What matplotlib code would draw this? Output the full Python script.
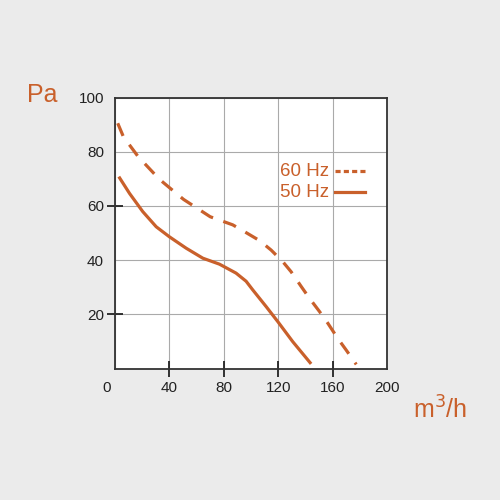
import matplotlib.pyplot as plt
import matplotlib.transforms as mtransforms

plt.rcParams['font.family'] = ['Liberation Sans', 'DejaVu Sans']

# 60 Hz curve (dashed)
flow_60 = [2, 6.2, 17, 32.7, 50.4, 70, 86.6, 95.2, 106.3, 114.8, 123.4, 129.5,
           137, 143, 150.4, 156.5, 163.8, 170, 177.4]
pres_60 = [90.5, 85.5, 78.2, 69.8, 62.4, 56, 53, 50.5, 47.2, 43.7, 39.4, 35.7,
           30.2, 25.9, 21, 16.7, 11.1, 6.8, 1.5]

# 50 Hz curve (solid)
flow_50 = [2.8, 10.7, 20.4, 30.3, 40, 52.3, 64.6, 76.8, 89, 96.4, 101.3, 111.2,
           119.7, 130.7, 144.2]
pres_50 = [70.8, 64.6, 57.9, 52.3, 48.6, 44.4, 40.7, 38.5, 35.2, 32.2, 29, 22.8,
           17.3, 9.9, 1.7]

x_ticks = [0, 40, 80, 120, 160, 200]
y_ticks = [20, 40, 60, 80, 100]

ORANGE = '#c9602b'
BG = '#ebebeb'

fig = plt.figure(figsize=(5, 5), dpi=100, facecolor=BG)
ax = fig.add_axes([115 / 500, 1 - 368.5 / 500, 272 / 500, 271 / 500])
ax.set_facecolor('white')

ax.plot(flow_60, pres_60, color=ORANGE, lw=2.3, ls=(0, (4.3, 3.4)))
ax.plot(flow_50, pres_50, color=ORANGE, lw=2.3, solid_capstyle='butt')

ax.set_xlim(0, 200)
ax.set_ylim(0, 100)

ax.set_xticks(x_ticks)
ax.set_yticks(y_ticks)
ax.tick_params(axis='x', length=0, labelsize=11, colors='#222222', pad=9)
ax.tick_params(axis='y', length=0, labelsize=11, colors='#222222', pad=8)

# visible tick marks only on some positions
ax.xaxis.remove_overlapping_locs = False
ax.yaxis.remove_overlapping_locs = False
ax.set_xticks([40, 80, 120, 160], minor=True)
ax.set_yticks([20, 60], minor=True)
ax.tick_params(which='minor', direction='inout', length=12, width=1.3, color='#222222')

ax.grid(True, color='#aaaaaa', lw=0.8)
for spine in ax.spines.values():
    spine.set_color('#333333')
    spine.set_linewidth(1.3)

# shift the "0" to the corner
labels = ax.get_xticklabels()
shift = mtransforms.ScaledTranslation(-8 / 100, 0, fig.dpi_scale_trans)
labels[0].set_transform(labels[0].get_transform() + shift)

# legend drawn by hand
ax.text(0.605, 0.727, '60 Hz', transform=ax.transAxes, color=ORANGE, fontsize=13.5,
        ha='left', va='center')
ax.plot([0.808, 0.92], [0.727, 0.727], transform=ax.transAxes, color=ORANGE,
        lw=2.3, ls=(0, (1.6, 1.0)))
ax.text(0.605, 0.65, '50 Hz', transform=ax.transAxes, color=ORANGE, fontsize=13.5,
        ha='left', va='center')
ax.plot([0.808, 0.92], [0.65, 0.65], transform=ax.transAxes, color=ORANGE, lw=2.3)

fig.text(42 / 500, 1 - 95 / 500, 'Pa', color=ORANGE, fontsize=18, ha='center', va='center')
fig.text(440 / 500, 1 - 410 / 500, 'm$^3$/h', color=ORANGE, fontsize=18, ha='center', va='center')

fig.savefig('out.png', dpi=100, facecolor=BG)
